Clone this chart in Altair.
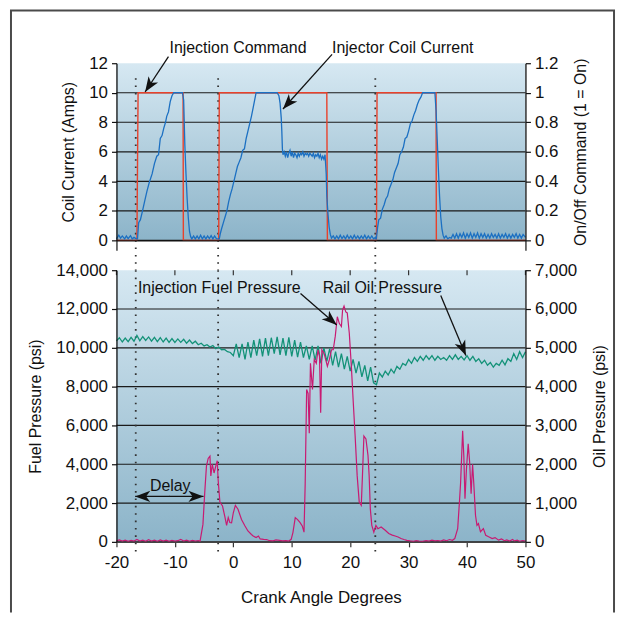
import altair as alt
import pandas as pd

FONT = "Liberation Sans"
BLUE = "#1c70c2"
RED = "#e8412b"
MAGENTA = "#c81a72"
TEAL = "#139278"
INK = "#111111"
GRAD = {"gradient": "linear", "x1": 0, "y1": 0, "x2": 0, "y2": 1,
        "stops": [{"offset": 0, "color": "#d6e8f2"}, {"offset": 1, "color": "#8cb4c9"}]}

W, H1, H2 = 411, 178, 273

# ---------------- data ----------------
coil_current = [
    (-20, 0.1), (-19.6, 0.35), (-19.3, 0.15), (-19.0, 0.3), (-18.6, 0.1), (-18.3, 0.3), (-18.0, 0.12),
    (-17.6, 0.32), (-17.3, 0.1), (-17.0, 0.2), (-16.6, 0.1),
    (-16.4, 0.1), (-16.2, 1.2), (-15.9, 1.4), (-15.6, 1.9), (-15.2, 2.6), (-14.8, 3.3), (-14.4, 3.9),
    (-13.9, 4.5), (-13.5, 5.2), (-13.1, 5.7), (-12.8, 5.8), (-12.5, 6.9), (-12.2, 7.1), (-11.9, 7.6),
    (-11.6, 8.0), (-11.4, 8.4), (-11.1, 8.7), (-10.8, 9.4), (-10.5, 9.8), (-10.2, 10.0),
    (-8.7, 10.0), (-8.5, 9.5), (-8.3, 6.5), (-8.1, 4.5), (-7.9, 2.8), (-7.7, 1.5), (-7.5, 0.6), (-7.3, 0.25), (-7.1, 0.1),
    (-6.8, 0.3), (-6.5, 0.1), (-6.2, 0.3), (-5.9, 0.1), (-5.6, 0.35), (-5.3, 0.1), (-5.0, 0.3), (-4.7, 0.1),
    (-4.4, 0.3), (-4.1, 0.12), (-3.8, 0.32), (-3.5, 0.1), (-3.2, 0.3), (-2.9, 0.12), (-2.6, 0.1),
    (-2.4, 0.1), (-2.2, 0.5), (-2.0, 0.8), (-1.7, 1.2), (-1.4, 1.6), (-1.1, 2.0), (-0.8, 2.6), (-0.5, 3.1),
    (-0.2, 3.5), (0.1, 4.0), (0.4, 4.5), (0.7, 5.0), (1.0, 5.3), (1.3, 5.6), (1.6, 6.1), (1.9, 6.2),
    (2.2, 6.9), (2.5, 7.4), (2.8, 7.9), (3.1, 8.4), (3.4, 9.0), (3.7, 9.6), (3.9, 10.0),
    (7.5, 10.0), (7.8, 9.8), (8.0, 9.3), (8.2, 8.3), (8.3, 7.4), (8.4, 6.2), (8.5, 5.8),
    (8.7, 6.0), (8.9, 5.7), (9.1, 6.0), (9.3, 5.6), (9.5, 5.9), (9.7, 6.1), (9.9, 5.7), (10.1, 6.0),
    (10.3, 5.6), (10.5, 5.9), (10.7, 5.8), (10.9, 5.6), (11.1, 5.9), (11.3, 5.7), (11.5, 5.9), (11.7, 5.8),
    (11.9, 6.0), (12.1, 5.7), (12.3, 5.9), (12.5, 5.8), (12.7, 5.9), (12.9, 5.7), (13.1, 5.9), (13.3, 5.8),
    (13.5, 5.7), (13.7, 5.9), (13.9, 5.6), (14.1, 5.8), (14.3, 5.7), (14.5, 5.9), (14.7, 5.6), (14.9, 5.8),
    (15.1, 5.5), (15.3, 5.7), (15.5, 5.5), (15.7, 5.8),
    (15.9, 4.5), (16.0, 3.0), (16.2, 1.8), (16.4, 0.9), (16.6, 0.4), (16.8, 0.15),
    (17.1, 0.3), (17.4, 0.1), (17.7, 0.3), (18.0, 0.1), (18.3, 0.35), (18.6, 0.12), (18.9, 0.3), (19.2, 0.1),
    (19.5, 0.35), (19.8, 0.12), (20.1, 0.3), (20.4, 0.1), (20.7, 0.35), (21.0, 0.12), (21.3, 0.3), (21.6, 0.1),
    (21.9, 0.3), (22.2, 0.12), (22.5, 0.35), (22.8, 0.1), (23.1, 0.3), (23.4, 0.12), (23.7, 0.3), (24.0, 0.1), (24.3, 0.2),
    (24.45, 0.05), (24.7, 0.9), (24.9, 1.4), (25.2, 1.5), (25.5, 2.1), (25.8, 2.4), (26.1, 2.8), (26.4, 3.0),
    (26.7, 3.5), (27.0, 3.8), (27.3, 4.1), (27.6, 4.6), (27.9, 4.9), (28.2, 5.2), (28.5, 5.8), (28.8, 6.0),
    (29.1, 6.3), (29.4, 6.9), (29.7, 7.0), (30.0, 7.4), (30.3, 7.9), (30.6, 8.1), (30.9, 8.5), (31.2, 8.8),
    (31.5, 9.2), (31.8, 9.5), (32.1, 9.7), (32.4, 10.0),
    (34.5, 10.0), (34.7, 8.8), (34.9, 6.8), (35.1, 4.8), (35.3, 3.0), (35.5, 1.6), (35.7, 0.8), (35.9, 0.35), (36.1, 0.15),
    (36.4, 0.3), (36.7, 0.1), (37.0, 0.2), (37.3, 0.15), (37.6, 0.4), (37.9, 0.15), (38.2, 0.45), (38.5, 0.15),
    (38.8, 0.45), (39.1, 0.2), (39.4, 0.5), (39.7, 0.15), (40.0, 0.45), (40.3, 0.2), (40.6, 0.5), (40.9, 0.15),
    (41.2, 0.45), (41.5, 0.2), (41.8, 0.5), (42.1, 0.15), (42.4, 0.45), (42.7, 0.2), (43.0, 0.45), (43.3, 0.15),
    (43.6, 0.4), (43.9, 0.15), (44.2, 0.45), (44.5, 0.2), (44.8, 0.4), (45.1, 0.15), (45.4, 0.45), (45.7, 0.15),
    (46.0, 0.4), (46.3, 0.2), (46.6, 0.45), (46.9, 0.15), (47.2, 0.4), (47.5, 0.15), (47.8, 0.4), (48.1, 0.2),
    (48.4, 0.45), (48.7, 0.15), (49.0, 0.4), (49.3, 0.15), (49.6, 0.4), (50.0, 0.2),
]

injection_command = [
    (-20, 0), (-16.5, 0), (-16.3, 1), (-8.6, 1), (-8.55, 0), (-2.5, 0), (-2.4, 1), (16.0, 1), (16.1, 0),
    (24.5, 0), (24.6, 1), (34.7, 1), (34.75, 0), (50, 0),
]

fuel_pressure = [
    (-20, 50), (-19.5, 100), (-19, 40), (-18.5, 90), (-18, 30), (-17.5, 80), (-17, 40), (-16.5, 120), (-16, 40),
    (-15.5, 90), (-15, 30), (-14.5, 110), (-14, 40), (-13.5, 90), (-13, 30), (-12.5, 100), (-12, 40), (-11.5, 90),
    (-11, 30), (-10.5, 80), (-10, 40), (-9.5, 60), (-9, 130), (-8.5, 40), (-8, 90), (-7.5, 30), (-7, 80),
    (-6.5, 40), (-6, 70), (-5.7, 30),
    (-5.2, 900), (-4.9, 2500), (-4.6, 3900), (-4.3, 4300), (-4.0, 4420), (-3.85, 3400), (-3.6, 4000), (-3.3, 3550),
    (-3.0, 3900), (-2.75, 4180), (-2.6, 3200), (-2.3, 2050), (-1.85, 1850), (-1.45, 1300), (-1.15, 850),
    (-0.87, 1250), (-0.6, 1000), (-0.3, 980), (0.0, 1500), (0.35, 1880), (0.8, 1680), (1.4, 1150), (2.0, 820),
    (2.5, 560), (3.1, 380), (3.4, 300), (3.9, 220), (4.3, 300), (4.6, 150), (5.2, 130), (5.7, 120), (6.2, 60),
    (6.8, 50), (7.3, 100), (7.9, 80), (8.4, 50), (9.0, 60), (9.5, 40), (9.9, 130), (10.2, 480), (10.6, 1250),
    (11.0, 1150), (11.4, 1000), (11.8, 820), (12.1, 500), (12.3, 3000), (12.55, 7850), (12.8, 7650), (13.0, 5600),
    (13.2, 9200), (13.55, 7850), (13.85, 9400), (14.2, 9200), (14.5, 9900), (14.75, 9550), (14.95, 6650),
    (15.15, 9900), (15.55, 9700), (16.1, 9050), (16.45, 9400), (16.8, 9900), (17.1, 9900), (17.45, 10600),
    (17.8, 11600), (18.15, 11250), (18.5, 11100), (18.7, 11950), (18.95, 12150), (19.25, 11850), (19.5, 11800),
    (19.85, 10750), (20.2, 9050), (20.5, 7350), (20.85, 5450), (21.2, 3400), (21.55, 2050), (21.9, 1880),
    (22.1, 3400), (22.35, 5450), (22.7, 5300), (23.05, 4450), (23.25, 3400), (23.45, 1700), (23.7, 850),
    (24.05, 500), (24.4, 850), (24.75, 680), (25.3, 770), (26.0, 600), (26.6, 430), (27.2, 350), (27.7, 300),
    (28.2, 250), (28.7, 170), (29.2, 120), (29.7, 80), (30.3, 50), (30.8, 30), (31.3, 60), (31.8, 40),
    (32.4, 30), (33.0, 60), (33.5, 40), (34.0, 90), (34.5, 50), (35.0, 70), (35.5, 40), (36.0, 100), (36.5, 60),
    (37.0, 120), (37.5, 80), (37.9, 170), (38.4, 680), (38.7, 2050), (38.9, 3050), (39.25, 5720), (39.45, 4440),
    (39.65, 2220), (39.9, 3760), (40.2, 5050), (40.45, 4100), (40.7, 2480), (40.95, 4000), (41.15, 3050),
    (41.45, 1370), (41.7, 850), (41.95, 940), (42.3, 520), (42.8, 680), (43.2, 340), (43.7, 260), (44.3, 170),
    (44.8, 220), (45.4, 90), (45.9, 150), (46.4, 60), (46.8, 100), (47.3, 40), (47.8, 120), (48.1, 50),
    (48.6, 90), (49.0, 30), (49.5, 70), (50, 40),
]

oil_pressure = [
    (-20, 5180), (-19.5, 5260), (-19, 5150), (-18.5, 5250), (-18, 5160), (-17.5, 5270), (-17, 5170), (-16.5, 5320),
    (-16, 5180), (-15.5, 5290), (-15, 5190), (-14.5, 5280), (-14, 5170), (-13.5, 5270), (-13, 5160), (-12.5, 5260),
    (-12, 5150), (-11.5, 5250), (-11, 5140), (-10.5, 5240), (-10, 5140), (-9.5, 5230), (-9, 5140), (-8.5, 5220),
    (-8, 5120), (-7.5, 5200), (-7, 5110), (-6.5, 5170), (-6, 5080), (-5.5, 5120), (-5, 5050), (-4.5, 5080),
    (-4, 5020), (-3.5, 5060), (-3, 4980), (-2.5, 5020), (-2, 4950), (-1.5, 4960), (-1, 4900), (-0.5, 4880),
    (0, 4800), (0.5, 5100), (1, 4750), (1.5, 5100), (2, 4700), (2.5, 5150), (3, 4750), (3.5, 5200),
    (4, 4800), (4.5, 5230), (5, 4780), (5.5, 5250), (6, 4800), (6.5, 5260), (7, 4850), (7.5, 5280),
    (8, 4820), (8.5, 5250), (9, 4800), (9.5, 5270), (10, 4780), (10.5, 5200), (11, 4760), (11.5, 5150),
    (12, 4750), (12.5, 5050), (13, 4700), (13.5, 5050), (14, 4680), (14.5, 5050), (15, 4600), (15.5, 5000),
    (16, 4650), (16.5, 4980), (17, 4550), (17.5, 4900), (18, 4500), (18.5, 4850), (19, 4450), (19.5, 4780),
    (20, 4400), (20.5, 4700), (21, 4350), (21.5, 4650), (22, 4250), (22.5, 4550), (23, 4150), (23.5, 4500),
    (24, 4100), (24.5, 4050), (25, 4350), (25.5, 4250), (26, 4400), (26.5, 4300), (27, 4450), (27.5, 4350),
    (28, 4520), (28.5, 4450), (29, 4600), (29.5, 4550), (30, 4700), (30.5, 4600), (31, 4750), (31.5, 4650),
    (32, 4780), (32.5, 4680), (33, 4800), (33.5, 4700), (34, 4800), (34.5, 4680), (35, 4780), (35.5, 4700),
    (36, 4750), (36.5, 4680), (37, 4800), (37.5, 4700), (38, 4820), (38.5, 4700), (39, 4780), (39.5, 4690),
    (40, 4800), (40.5, 4680), (41, 4780), (41.5, 4650), (42, 4720), (42.5, 4600), (43, 4680), (43.5, 4550),
    (44, 4620), (44.5, 4500), (45, 4600), (45.5, 4550), (46, 4680), (46.5, 4560), (47, 4720), (47.5, 4650),
    (48, 4850), (48.5, 4700), (49, 4900), (49.5, 4750), (50, 4900),
]

marker_angles = [-16.7, -2.6, 24.3]
x_ticks = [-20, -10, 0, 10, 20, 30, 40, 50]
amp_ticks = [0, 2, 4, 6, 8, 10, 12]
cmd_ticks = [0, 0.2, 0.4, 0.6, 0.8, 1, 1.2]
fuel_ticks = [0, 2000, 4000, 6000, 8000, 10000, 12000, 14000]
oil_ticks = [0, 1000, 2000, 3000, 4000, 5000, 6000, 7000]
amp_grid = [0, 2, 4, 6, 8, 10]
fuel_grid = [0, 2000, 4000, 6000, 8000, 10000, 12000]

top_labels = ["Injection Command", "Injector Coil Current"]
top_label_x = [0.8, 29.0]
top_label_y = [13.0, 13.0]
top_arrow_x0 = [-11.1, 16.9]
top_arrow_y0 = [12.45, 12.6]
top_arrow_x1 = [-15.1, 8.5]
top_arrow_y1 = [10.05, 8.9]
top_arrow_angle = [213, 222]

bot_labels = ["Injection Fuel Pressure", "Rail Oil Pressure", "Delay"]
bot_label_x = [-2.4, 25.5, -10.8]
bot_label_y = [13060, 13090, 2870]
bot_arrow_x0 = [11.5, 35.5, -10.9, -11.0]
bot_arrow_y0 = [12800, 12700, 2340, 2340]
bot_arrow_x1 = [17.7, 39.8, -16.8, -5.1]
bot_arrow_y1 = [11180, 9600, 2340, 2340]
bot_arrow_angle = [131, 157, 270, 90]

# ---------------- helpers ----------------
ARROW = "M0,0 L0.75,2 L0,1.45 L-0.75,2 Z"

xs = alt.Scale(domain=[-20, 50], nice=False, zero=False)
ys_amp = alt.Scale(domain=[0, 12], nice=False, zero=False)
ys_cmd = alt.Scale(domain=[0, 1.2], nice=False, zero=False)
ys_fuel = alt.Scale(domain=[0, 14000], nice=False, zero=False)
ys_oil = alt.Scale(domain=[0, 7000], nice=False, zero=False)


def yaxis(orient, values, title, fmt):
    kw = dict(orient=orient, values=values, title=title, format=fmt,
              labelFont=FONT, labelFontSize=17, labelColor=INK, labelFlush=False,
              titleFont=FONT, titleFontSize=16, titleFontWeight="normal", titleColor=INK,
              tickColor=INK, tickSize=5, tickWidth=1.2, domainColor=INK, domainWidth=1.3,
              grid=False, zindex=1, labelPadding=4, titlePadding=12)
    if orient == "right":
        kw.update(titleAngle=270, titleBaseline="top", titlePadding=15)
    return alt.Axis(**kw)


def pairs_df(pairs, ycol):
    return pd.DataFrame({"x": [p[0] for p in pairs], ycol: [p[1] for p in pairs]})


one = pd.DataFrame({"k": [0]})


def background(h):
    return alt.Chart(one).mark_rect(fill=GRAD, strokeWidth=0).encode(
        x=alt.value(0), x2=alt.value(W), y=alt.value(0), y2=alt.value(h))


def gridlines(vals, scale):
    return alt.Chart(pd.DataFrame({"g": vals})).mark_rule(color="#1a1a1a", strokeWidth=1.2).encode(
        y=alt.Y("g:Q", scale=scale, axis=None), x=alt.value(0), x2=alt.value(W))


def dotted(y0, y1, xax):
    return alt.Chart(pd.DataFrame({"m": marker_angles})).mark_rule(
        color="#333333", strokeWidth=1.8, strokeDash=[1.6, 5.8]).encode(
        x=alt.X("m:Q", scale=xs, axis=xax), y=alt.value(y0), y2=alt.value(y1))


def annotations(texts, tx, ty, ax0, ay0, ax1, ay1, ang, yscale, xax):
    tdf = pd.DataFrame({"t": texts, "x": tx, "y": ty})
    adf = pd.DataFrame({"x0": ax0, "y0": ay0, "x1": ax1, "y1": ay1, "a": ang})
    txt = alt.Chart(tdf).mark_text(font=FONT, fontSize=16, color=INK).encode(
        x=alt.X("x:Q", scale=xs, axis=xax), y=alt.Y("y:Q", scale=yscale, axis=None), text="t:N")
    shaft = alt.Chart(adf).mark_rule(color=INK, strokeWidth=1.3).encode(
        x=alt.X("x0:Q", scale=xs, axis=xax), y=alt.Y("y0:Q", scale=yscale, axis=None),
        x2="x1:Q", y2="y1:Q")
    head = alt.Chart(adf).mark_point(shape=ARROW, filled=True, color=INK, opacity=1, size=230).encode(
        x=alt.X("x1:Q", scale=xs, axis=xax), y=alt.Y("y1:Q", scale=yscale, axis=None),
        angle=alt.Angle("a:Q", scale=None))
    return alt.layer(txt, shaft, head)


# ---------------- top panel ----------------
top_xaxis = alt.Axis(orient="bottom", values=[-20, 50], labels=False, title=None, tickSize=10,
                     tickColor=INK, tickWidth=1.2, domainColor=INK, domainWidth=1.3, grid=False, zindex=1)

frame = [
    alt.Chart(one).mark_rule(color="#4a4a4a", strokeWidth=2).encode(
        x=alt.value(-106), x2=alt.value(-106), y=alt.value(-53), y2=alt.value(552)),
    alt.Chart(one).mark_rule(color="#4a4a4a", strokeWidth=2).encode(
        x=alt.value(500), x2=alt.value(500), y=alt.value(-53), y2=alt.value(552)),
    alt.Chart(one).mark_rule(color="#4a4a4a", strokeWidth=2).encode(
        x=alt.value(-107), x2=alt.value(501), y=alt.value(-53), y2=alt.value(-53)),
]

top_back = alt.layer(background(H1), *frame, gridlines(amp_grid, ys_amp), dotted(15, H1 + 30, top_xaxis))

cmd_line = alt.Chart(pairs_df(injection_command, "c")).mark_line(color=RED, strokeWidth=1.4).encode(
    x=alt.X("x:Q", scale=xs, axis=top_xaxis),
    y=alt.Y("c:Q", scale=ys_cmd, axis=yaxis("right", cmd_ticks, "On/Off Command (1 = On)", "~g")))

amp_line = alt.Chart(pairs_df(coil_current, "a")).mark_line(color=BLUE, strokeWidth=1.3).encode(
    x=alt.X("x:Q", scale=xs, axis=top_xaxis),
    y=alt.Y("a:Q", scale=ys_amp, axis=yaxis("left", amp_ticks, "Coil Current (Amps)", "d")))

top_ann = annotations(top_labels, top_label_x, top_label_y, top_arrow_x0, top_arrow_y0,
                      top_arrow_x1, top_arrow_y1, top_arrow_angle, ys_amp, top_xaxis)

top = alt.layer(top_back, cmd_line, amp_line, top_ann).resolve_scale(y="independent").properties(width=W, height=H1)

# ---------------- bottom panel ----------------
bot_xaxis = alt.Axis(orient="bottom", values=x_ticks, title="Crank Angle Degrees", labelExpr="'' + datum.value",
                     labelFont=FONT, labelFontSize=17, labelColor=INK, labelPadding=8, labelFlush=False,
                     titleFont=FONT, titleFontSize=17, titleFontWeight="normal", titleColor=INK, titlePadding=19,
                     tickSize=5, tickColor="#333333", tickWidth=1.2, domainColor="#444444", domainWidth=1.3,
                     grid=False, zindex=1)

top_ticks = alt.Chart(pd.DataFrame({"t": x_ticks})).mark_rule(color="#333333", strokeWidth=1.2).encode(
    x=alt.X("t:Q", scale=xs, axis=bot_xaxis), y=alt.value(0), y2=alt.value(5))

bot_back = alt.layer(background(H2), gridlines(fuel_grid, ys_fuel), dotted(0, H2 + 12, bot_xaxis), top_ticks)

oil_line = alt.Chart(pairs_df(oil_pressure, "o")).mark_line(color=TEAL, strokeWidth=1.3).encode(
    x=alt.X("x:Q", scale=xs, axis=bot_xaxis),
    y=alt.Y("o:Q", scale=ys_oil, axis=yaxis("right", oil_ticks, "Oil Pressure (psi)", ",d")))

fuel_line = alt.Chart(pairs_df(fuel_pressure, "f")).mark_line(color=MAGENTA, strokeWidth=1.2).encode(
    x=alt.X("x:Q", scale=xs, axis=bot_xaxis),
    y=alt.Y("f:Q", scale=ys_fuel, axis=yaxis("left", fuel_ticks, "Fuel Pressure (psi)", ",d")))

bot_ann = annotations(bot_labels, bot_label_x, bot_label_y, bot_arrow_x0, bot_arrow_y0,
                      bot_arrow_x1, bot_arrow_y1, bot_arrow_angle, ys_fuel, bot_xaxis)

bottom = alt.layer(bot_back, oil_line, fuel_line, bot_ann).resolve_scale(y="independent").properties(width=W, height=H2)

chart = alt.vconcat(top, bottom, spacing=30, bounds="flush").properties(
    padding={"left": 1, "top": 0, "right": 2, "bottom": 0}
).configure_view(stroke=None)

chart.save("out.html", embed_options={"renderer": "svg", "actions": False})
